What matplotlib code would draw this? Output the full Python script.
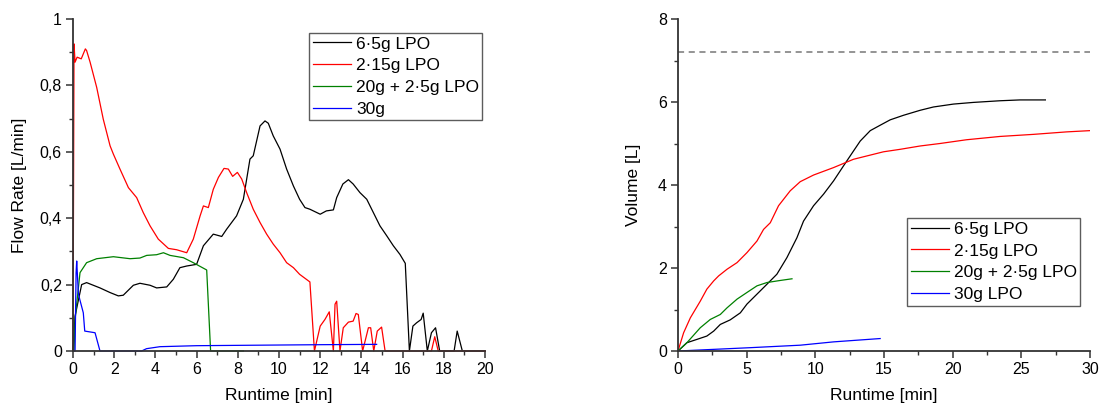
import matplotlib
matplotlib.use("Agg")
import matplotlib.pyplot as plt
from matplotlib.ticker import MultipleLocator, FuncFormatter

plt.rcParams['font.family'] = ['Liberation Sans', 'DejaVu Sans']

# ---------------- Left panel: flow rate ----------------
labels_left = ["6·5g LPO", "2·15g LPO", "20g + 2·5g LPO", "30g"]
labels_right = ["6·5g LPO", "2·15g LPO", "20g + 2·5g LPO", "30g LPO"]
colors = ["#000000", "#ff0000", "#008000", "#0000ff"]

flow_black_t = [0.0, 0.1, 0.42, 0.66, 1.31, 1.8, 2.2, 2.44, 2.93, 3.25, 3.74, 4.06, 4.55, 4.87,
                5.19, 5.52, 6.0, 6.33, 6.81, 7.22, 7.46, 7.94, 8.27, 8.59, 8.75, 9.08, 9.32,
                9.48, 9.72, 10.05, 10.37, 10.7, 11.0, 11.26, 11.5, 12.0, 12.3, 12.64, 12.8,
                13.1, 13.37, 13.6, 13.93, 14.26, 14.58, 14.9, 15.23, 15.55, 15.87, 16.13,
                16.33, 16.5, 16.68, 16.9, 17.0, 17.2, 17.4, 17.6, 17.8, 18.5, 18.65, 18.9, 20.0]
flow_black_v = [0.0, 0.105, 0.2, 0.206, 0.19, 0.176, 0.166, 0.168, 0.198, 0.204, 0.198, 0.19,
                0.193, 0.216, 0.251, 0.256, 0.261, 0.317, 0.352, 0.345, 0.367, 0.407, 0.457,
                0.578, 0.588, 0.678, 0.693, 0.686, 0.648, 0.608, 0.548, 0.497, 0.457, 0.432,
                0.427, 0.412, 0.422, 0.425, 0.462, 0.503, 0.516, 0.503, 0.477, 0.457, 0.417,
                0.377, 0.347, 0.317, 0.291, 0.264, 0.0, 0.075, 0.085, 0.095, 0.114, 0.0,
                0.055, 0.07, 0.0, 0.0, 0.06, 0.0, 0.0]

flow_red_t = [0.0, 0.05, 0.1, 0.2, 0.4, 0.6, 0.66, 0.83, 1.15, 1.47, 1.8, 1.96, 2.28, 2.69,
              3.09, 3.41, 3.74, 4.14, 4.63, 5.03, 5.52, 5.84, 6.17, 6.33, 6.57, 6.81, 7.06,
              7.33, 7.54, 7.75, 7.98, 8.19, 8.43, 8.75, 9.08, 9.4, 9.72, 10.05, 10.37, 10.7,
              11.0, 11.5, 11.72, 12.0, 12.23, 12.44, 12.64, 12.72, 12.8, 12.96, 13.12, 13.37,
              13.6, 13.74, 13.85, 14.06, 14.34, 14.45, 14.6, 14.77, 14.98, 15.15, 17.4, 17.56,
              17.73, 20.0]
flow_red_v = [0.0, 0.925, 0.87, 0.885, 0.88, 0.91, 0.905, 0.87, 0.794, 0.698, 0.618, 0.593,
              0.548, 0.492, 0.462, 0.417, 0.377, 0.337, 0.309, 0.305, 0.296, 0.337, 0.407,
              0.437, 0.432, 0.487, 0.523, 0.55, 0.548, 0.526, 0.538, 0.518, 0.477, 0.427,
              0.387, 0.352, 0.322, 0.296, 0.266, 0.251, 0.231, 0.208, 0.0, 0.075, 0.095,
              0.118, 0.0, 0.141, 0.15, 0.0, 0.07, 0.087, 0.09, 0.113, 0.11, 0.0, 0.07, 0.07,
              0.0, 0.06, 0.072, 0.0, 0.0, 0.043, 0.0, 0.0]

flow_green_t = [0.0, 0.05, 0.1, 0.34, 0.66, 1.15, 1.96, 2.77, 3.25, 3.58, 4.06, 4.39, 4.71,
                5.36, 5.84, 6.49, 6.68, 8.27]
flow_green_v = [0.0, 0.0, 0.095, 0.236, 0.266, 0.278, 0.284, 0.278, 0.28, 0.288, 0.29, 0.296,
                0.288, 0.281, 0.266, 0.244, 0.0, 0.0]

flow_blue_t = [0.0, 0.1, 0.15, 0.18, 0.26, 0.33, 0.5, 0.57, 1.07, 1.31, 3.33, 3.57, 4.22,
               6.0, 8.0, 10.0, 12.0, 14.74]
flow_blue_v = [0.0, 0.0, 0.236, 0.271, 0.173, 0.155, 0.115, 0.06, 0.055, 0.0, 0.0, 0.007,
               0.013, 0.016, 0.017, 0.018, 0.019, 0.02]

# ---------------- Right panel: volume ----------------
vol_black_t = [0.0, 0.65, 1.38, 2.1, 2.6, 3.08, 3.8, 4.54, 5.02, 5.75, 6.48, 7.2, 7.93, 8.66,
               9.14, 9.87, 10.6, 11.33, 12.05, 12.78, 13.27, 14.0, 14.72, 15.45, 16.42, 17.63,
               18.6, 20.06, 21.5, 23.45, 24.9, 26.75]
vol_black_v = [0.0, 0.2, 0.28, 0.36, 0.48, 0.64, 0.75, 0.92, 1.13, 1.37, 1.61, 1.85, 2.25,
               2.73, 3.13, 3.5, 3.78, 4.1, 4.46, 4.82, 5.06, 5.31, 5.44, 5.57, 5.68, 5.8, 5.88,
               5.95, 5.99, 6.03, 6.05, 6.05]

vol_red_t = [0.0, 0.41, 0.9, 1.62, 2.1, 2.6, 2.96, 3.57, 4.3, 5.02, 5.75, 6.23, 6.72, 7.32,
             8.17, 8.9, 9.87, 11.33, 12.78, 13.75, 14.96, 16.18, 17.63, 19.08, 21.0, 23.45,
             25.88, 28.3, 30.0]
vol_red_v = [0.0, 0.44, 0.8, 1.2, 1.49, 1.69, 1.81, 1.97, 2.13, 2.37, 2.65, 2.93, 3.09, 3.5,
             3.86, 4.08, 4.24, 4.42, 4.62, 4.7, 4.8, 4.86, 4.94, 5.0, 5.09, 5.17, 5.22, 5.28,
             5.31]

vol_green_t = [0.0, 0.65, 1.62, 2.35, 3.08, 3.57, 4.3, 5.02, 5.75, 6.48, 7.45, 8.3]
vol_green_v = [0.0, 0.2, 0.56, 0.76, 0.88, 1.04, 1.25, 1.41, 1.57, 1.65, 1.7, 1.74]

vol_blue_t = [0.0, 5.26, 8.9, 11.33, 14.72]
vol_blue_v = [0.0, 0.08, 0.14, 0.22, 0.3]

max_volume = 7.2

W, H = 1099, 405
fig = plt.figure(figsize=(W / 100, H / 100), dpi=100)
axL = fig.add_axes([73 / W, 1 - 351 / H, (485 - 73) / W, (351 - 19) / H])
axR = fig.add_axes([678 / W, 1 - 351 / H, (1090 - 678) / W, (351 - 19) / H])

spine_col = "#333333"
lw = 0.9
tick_fs = 11.5
label_fs = 12.5
legend_fs = 12.5


def style(ax):
    for s in ("top", "right"):
        ax.spines[s].set_visible(False)
    for s in ("left", "bottom"):
        ax.spines[s].set_color(spine_col)
        ax.spines[s].set_linewidth(1.3)
    ax.tick_params(which="major", direction="out", length=5, width=1.1, colors=spine_col,
                   labelsize=tick_fs, labelcolor="black", pad=3)
    ax.tick_params(which="minor", direction="out", length=3, width=1.0, colors=spine_col)


def make_legend(ax, anchor):
    leg = ax.legend(loc="upper left", bbox_to_anchor=anchor, borderaxespad=0,
                    fontsize=legend_fs, frameon=True, fancybox=False, handlelength=2.2,
                    handletextpad=0.3, labelspacing=0.38, borderpad=0.2)
    leg.get_frame().set_edgecolor("#333333")
    leg.get_frame().set_linewidth(1.0)
    return leg


flows = [(flow_black_t, flow_black_v), (flow_red_t, flow_red_v),
         (flow_green_t, flow_green_v), (flow_blue_t, flow_blue_v)]
for (t, v), c, lab in zip(flows, colors, labels_left):
    axL.plot(t, v, color=c, lw=lw, label=lab, clip_on=False)
axL.set_xlim(0, 20)
axL.set_ylim(0, 1)
axL.xaxis.set_major_locator(MultipleLocator(2))
axL.xaxis.set_minor_locator(MultipleLocator(1))
axL.yaxis.set_major_locator(MultipleLocator(0.2))
axL.yaxis.set_minor_locator(MultipleLocator(0.1))
axL.yaxis.set_major_formatter(FuncFormatter(lambda v, p: ("%g" % round(v, 2)).replace(".", ",")))
axL.set_xlabel("Runtime [min]", fontsize=label_fs, labelpad=8)
axL.set_ylabel("Flow Rate [L/min]", fontsize=label_fs, labelpad=9)
style(axL)
make_legend(axL, (0.573, 0.958))

vols = [(vol_black_t, vol_black_v), (vol_red_t, vol_red_v),
        (vol_green_t, vol_green_v), (vol_blue_t, vol_blue_v)]
for (t, v), c, lab in zip(vols, colors, labels_right):
    axR.plot(t, v, color=c, lw=lw, label=lab)
axR.axhline(max_volume, color="#777777", lw=1.1, ls=(0, (4, 3)))
axR.set_xlim(0, 30)
axR.set_ylim(0, 8)
axR.xaxis.set_major_locator(MultipleLocator(5))
axR.xaxis.set_minor_locator(MultipleLocator(2.5))
axR.yaxis.set_major_locator(MultipleLocator(2))
axR.yaxis.set_minor_locator(MultipleLocator(1))
axR.set_xlabel("Runtime [min]", fontsize=label_fs, labelpad=8)
axR.set_ylabel("Volume [L]", fontsize=label_fs, labelpad=12)
style(axR)
make_legend(axR, (0.556, 0.40))

fig.savefig("out.png", dpi=100)
